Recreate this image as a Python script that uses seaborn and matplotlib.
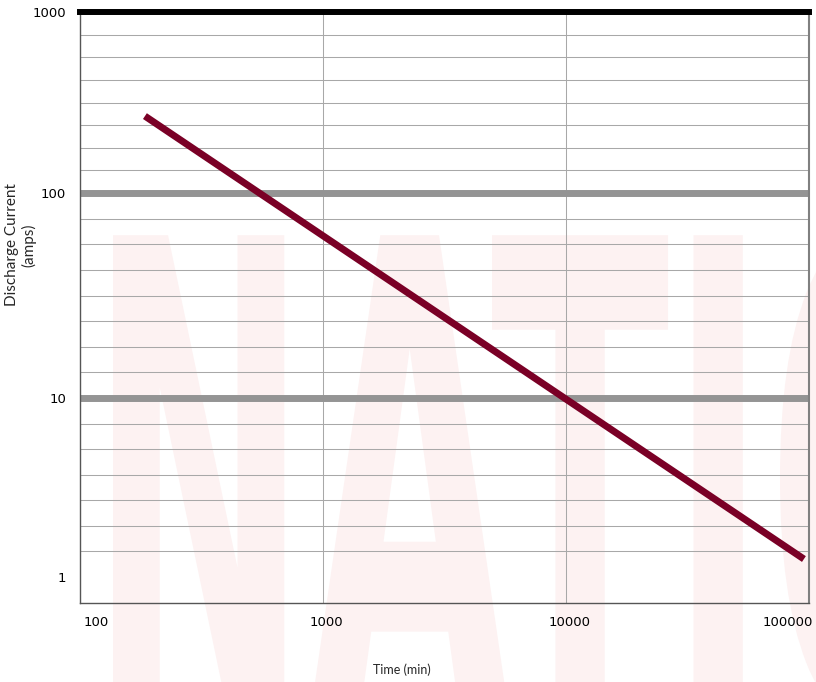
import numpy as np
import matplotlib
matplotlib.use("Agg")
import matplotlib.pyplot as plt
import seaborn as sns
from matplotlib.textpath import TextPath
from matplotlib.patches import PathPatch
from matplotlib.font_manager import FontProperties
from matplotlib.transforms import Affine2D, ScaledTranslation

# data
time_min = [185, 95300]
current_amps = [266, 1.26]
x_ticks = [100, 1000, 10000, 100000]
x_labels = ["100", "1000", "10000", "100000"]
y_ticks = [1, 10, 100, 1000]
y_labels = ["1", "10", "100", "1000"]

sns.set_style("white")
plt.rcParams["font.family"] = ["DejaVu Sans"]

# the y axis of the original is not a true log axis: each decade has its own
# height, and the minor lines are evenly spaced inside a decade
dec_log = [-1, 0, 1, 2, 3, 4]
dec_px = [26 - 179, 26, 205, 410, 591, 591 + 181]
steps = [(26, 205, 7), (205, 410, 8), (410, 591, 8)]


def fwd(y):
    y = np.clip(np.asarray(y, dtype=float), 1e-12, None)
    return np.interp(np.log10(y), dec_log, dec_px)


def inv(u):
    return 10 ** np.interp(u, dec_px, dec_log)


fig = plt.figure(figsize=(8.16, 6.82), dpi=100)
fig.patch.set_facecolor("white")

# faint watermark behind the plot
bg = fig.add_axes([0, 0, 1, 1], zorder=-1)
bg.set_xlim(0, 816)
bg.set_ylim(682, 0)
bg.axis("off")
tp = TextPath((0, 0), "NATIO", size=1, prop=FontProperties(family="DejaVu Sans", weight="bold"))
tp = Affine2D().scale(262, -665).translate(89, 720).transform_path(tp)
bg.add_patch(PathPatch(tp, facecolor="#fdf2f2", edgecolor="none"))

ax = fig.add_axes([80 / 816, 79 / 682, 729 / 816, 591 / 682])
ax.set_facecolor("none")

ax.set_xscale("log")
ax.set_yscale("function", functions=(fwd, inv))
ax.set_xlim(100, 100000)
ax.set_ylim(float(inv(0)), 1000)

minor = [1.0]
for lo, hi, n in steps:
    minor += list(inv(np.linspace(lo, hi, n + 1)[1:-1]))
ax.set_yticks(minor, minor=True)
ax.set_yticks(y_ticks, y_labels)
ax.set_xticks(x_ticks, x_labels)
ax.xaxis.set_minor_locator(matplotlib.ticker.NullLocator())

ax.grid(False)
ax.grid(which="minor", axis="y", color="#a8a8a8", lw=0.75)
ax.grid(which="major", axis="x", color="#a8a8a8", lw=0.75)
for v in [10, 100]:
    ax.axhline(v, color="#949494", lw=5, zorder=1.5)

ax.tick_params(which="both", length=0, labelsize=9.5, colors="black")
ax.tick_params(axis="y", pad=10)
ax.tick_params(axis="x", pad=9)
for lab in ax.get_xticklabels():
    lab.set_transform(lab.get_transform() + ScaledTranslation(3.5 / 100, 0, fig.dpi_scale_trans))
ax.get_xticklabels()[0].set_ha("left")
ax.get_xticklabels()[-1].set_ha("right")

ax.spines["top"].set_color("black")
ax.spines["top"].set_linewidth(4.3)
ax.spines["right"].set_color("#808080")
ax.spines["right"].set_linewidth(1.5)
ax.spines["left"].set_color("#555555")
ax.spines["left"].set_linewidth(1.0)
ax.spines["bottom"].set_color("#555555")
ax.spines["bottom"].set_linewidth(1.0)

sns.lineplot(x=time_min, y=current_amps, ax=ax, color="#7a0026", lw=5,
             solid_capstyle="butt", zorder=3)
ax.set_xlabel("")
ax.set_ylabel("")

fig.text(21 / 816, 1 - 245 / 682, "Discharge Current\n(amps)", rotation=90,
         ha="center", va="center", multialignment="center", fontsize=11,
         family=["Lato", "DejaVu Sans"], linespacing=1.2)
fig.text(402 / 816, 1 - 670 / 682, "Time (min)", ha="center", va="center",
         fontsize=9, family=["Lato", "DejaVu Sans"])

fig.savefig("out.png", dpi=100)
